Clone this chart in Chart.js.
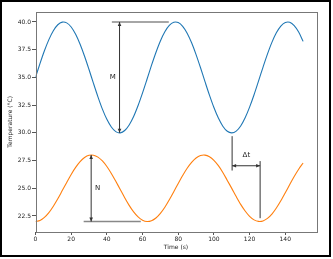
<!DOCTYPE html>
<html>
<head>
<meta charset="utf-8">
<script src="https://cdn.jsdelivr.net/npm/chart.js@4/dist/chart.umd.min.js"></script>
<style>
    body { margin: 0; background: #fff; }
    #wrap { position: relative; width: 333px; height: 259px; }
    #frame { position: absolute; left: 0; top: 0; width: 331px; height: 257px; border: 2px solid #000; box-sizing: border-box; pointer-events: none; }
</style>
</head>
<body>
<div id="wrap">
    <canvas id="tempChart" width="333" height="259"></canvas>
    <div id="frame"></div>
</div>
<script>
// Time samples (s), every 2.5 s
const times = [0, 2.5, 5, 7.5, 10, 12.5, 15, 17.5, 20, 22.5, 25, 27.5, 30, 32.5, 35, 37.5, 40, 42.5, 45, 47.5,
    50, 52.5, 55, 57.5, 60, 62.5, 65, 67.5, 70, 72.5, 75, 77.5, 80, 82.5, 85, 87.5, 90, 92.5, 95, 97.5,
    100, 102.5, 105, 107.5, 110, 112.5, 115, 117.5, 120, 122.5, 125, 127.5, 130, 132.5, 135, 137.5, 140, 142.5, 145, 147.5, 150];

// Upper (blue) temperature trace
const upperTemp = [35.00, 36.24, 37.40, 38.41, 39.21, 39.75, 39.99, 39.92, 39.55, 38.89, 37.99, 36.91, 35.71, 34.46, 33.25, 32.14, 31.22, 30.53, 30.11, 30.00,
    30.21, 30.71, 31.47, 32.46, 33.60, 34.83, 36.08, 37.25, 38.29, 39.12, 39.69, 39.97, 39.95, 39.61, 38.99, 38.12, 37.06, 35.87, 34.62, 33.40,
    32.28, 31.33, 30.60, 30.14, 30.00, 30.16, 30.62, 31.36, 32.32, 33.44, 34.67, 35.91, 37.10, 38.16, 39.02, 39.63, 39.95, 39.97, 39.67, 39.09, 38.25];

// Lower (orange) temperature trace
const lowerTemp = [22.00, 22.09, 22.37, 22.80, 23.38, 24.05, 24.79, 25.53, 26.25, 26.88, 27.40, 27.77, 27.97, 27.98, 27.81, 27.46, 26.96, 26.34, 25.63, 24.89,
    24.15, 23.46, 22.87, 22.42, 22.12, 22.00, 22.07, 22.32, 22.74, 23.29, 23.96, 24.69, 25.44, 26.16, 26.81, 27.34, 27.73, 27.95, 27.99, 27.84,
    27.52, 27.04, 26.43, 25.71, 24.99, 24.25, 23.55, 22.95, 22.47, 22.15, 22.01, 22.05, 22.28, 22.67, 23.22, 23.87, 24.59, 25.34, 26.06, 26.72, 27.28];

const xTicks = [0, 20, 40, 60, 80, 100, 120, 140];
const yTicks = [22.5, 25.0, 27.5, 30.0, 32.5, 35.0, 37.5, 40.0];

// Annotations in data units: [x1, y1, x2, y2]
const guideLines = [[42.8, 40, 74.7, 40], [27, 22, 59, 22]];
const markLines = [[110.2, 29.7, 110.2, 26.6], [125.9, 27.45, 125.9, 22.3]];
const arrows = [[47.1, 30, 47.1, 40], [31.2, 22, 31.2, 28], [110.2, 27.03, 125.9, 27.03]];
const labels = [['M', 43.3, 35.0], ['N', 34.8, 25.0], ['\u0394t', 118.2, 27.95]];

const FONT = 'DejaVu Sans';

function arrowHead(ctx, x, y, angle) {
    // small filled head pointing along angle
    const len = 4, half = 1.8;
    ctx.beginPath();
    ctx.moveTo(x, y);
    ctx.lineTo(x - len * Math.cos(angle) + half * Math.sin(angle), y - len * Math.sin(angle) - half * Math.cos(angle));
    ctx.lineTo(x - len * Math.cos(angle) - half * Math.sin(angle), y - len * Math.sin(angle) + half * Math.cos(angle));
    ctx.closePath();
    ctx.fill();
}

const annotatePlugin = {
    id: 'annotate',
    afterDatasetsDraw(chart) {
        const { ctx, scales: { x, y }, chartArea } = chart;
        ctx.save();
        // guide lines (grey, a bit heavier)
        ctx.strokeStyle = '#888';
        ctx.lineWidth = 1.6;
        guideLines.forEach(([x1, y1, x2, y2]) => {
            ctx.beginPath();
            ctx.moveTo(x.getPixelForValue(x1), y.getPixelForValue(y1));
            ctx.lineTo(x.getPixelForValue(x2), y.getPixelForValue(y2));
            ctx.stroke();
        });
        // thin marker lines
        ctx.strokeStyle = '#333';
        ctx.lineWidth = 1;
        markLines.forEach(([x1, y1, x2, y2]) => {
            ctx.beginPath();
            ctx.moveTo(x.getPixelForValue(x1), y.getPixelForValue(y1));
            ctx.lineTo(x.getPixelForValue(x2), y.getPixelForValue(y2));
            ctx.stroke();
        });
        // double-headed arrows
        ctx.fillStyle = '#333';
        arrows.forEach(([x1, y1, x2, y2]) => {
            const px1 = x.getPixelForValue(x1), py1 = y.getPixelForValue(y1);
            const px2 = x.getPixelForValue(x2), py2 = y.getPixelForValue(y2);
            const ang = Math.atan2(py2 - py1, px2 - px1);
            ctx.beginPath();
            ctx.moveTo(px1, py1);
            ctx.lineTo(px2, py2);
            ctx.stroke();
            arrowHead(ctx, px2, py2, ang);
            arrowHead(ctx, px1, py1, ang + Math.PI);
        });
        // text labels
        ctx.fillStyle = '#222';
        ctx.font = '7px "' + FONT + '"';
        ctx.textAlign = 'center';
        ctx.textBaseline = 'middle';
        labels.forEach(([txt, lx, ly]) => {
            ctx.fillText(txt, x.getPixelForValue(lx), y.getPixelForValue(ly));
        });
        // axes frame
        ctx.strokeStyle = '#777';
        ctx.lineWidth = 1;
        ctx.strokeRect(Math.round(chartArea.left) + 0.5, Math.round(chartArea.top) + 0.5,
            Math.round(chartArea.right - chartArea.left), Math.round(chartArea.bottom - chartArea.top));
        ctx.restore();
    }
};

const toPoints = (vals) => times.map((t, i) => ({ x: t, y: vals[i] }));

window.tempChart = new Chart(document.getElementById('tempChart').getContext('2d'), {
    type: 'line',
    data: {
        datasets: [{
            label: 'Upper',
            data: toPoints(upperTemp),
            borderColor: '#1f77b4',
            borderWidth: 1.1,
            pointRadius: 0,
            tension: 0.3
        }, {
            label: 'Lower',
            data: toPoints(lowerTemp),
            borderColor: '#ff7f0e',
            borderWidth: 1.1,
            pointRadius: 0,
            tension: 0.3
        }]
    },
    options: {
        responsive: false,
        animation: false,
        events: [],
        layout: { padding: { left: 0, top: 12, right: 16.5, bottom: 0 } },
        plugins: {
            legend: { display: false },
            tooltip: { enabled: false }
        },
        scales: {
            x: {
                type: 'linear',
                min: 0,
                max: 157.5,
                afterBuildTicks: (scale) => { scale.ticks = xTicks.map(v => ({ value: v })); },
                afterFit: (scale) => { scale.height = 27.5; },
                border: { display: false },
                grid: { drawOnChartArea: false, drawTicks: true, tickLength: 3.5, tickColor: '#555' },
                ticks: { color: '#222', padding: 1, maxRotation: 0, font: { family: FONT, size: 6 } },
                title: { display: true, text: 'Time (s)', color: '#222', font: { family: FONT, size: 6 }, padding: { top: 0, bottom: 7.7 } }
            },
            y: {
                min: 21.1,
                max: 40.9,
                afterBuildTicks: (scale) => { scale.ticks = yTicks.map(v => ({ value: v })); },
                afterFit: (scale) => { scale.width = 35.5; },
                border: { display: false },
                grid: { drawOnChartArea: false, drawTicks: true, tickLength: 3.5, tickColor: '#555' },
                ticks: { color: '#222', padding: 1, font: { family: FONT, size: 6 }, callback: (v) => Number(v).toFixed(1) },
                title: { display: true, text: 'Temperature (\u00B0C)', color: '#222', font: { family: FONT, size: 6 }, padding: { top: 6.5, bottom: 0 } }
            }
        }
    },
    plugins: [annotatePlugin]
});
</script>
</body>
</html>
